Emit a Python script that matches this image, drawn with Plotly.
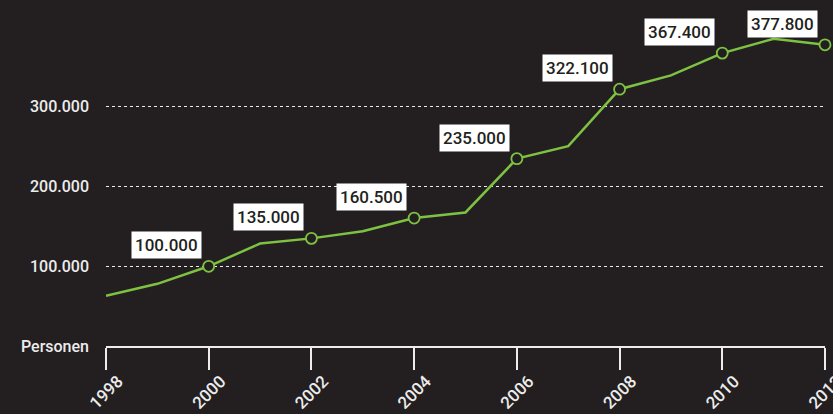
import plotly.graph_objects as go

# Personen pro Jahr
years = list(range(1998, 2013))
persons = [63000, 78000, 100000, 128500, 135000, 144000, 160500, 167500,
           235000, 250700, 322100, 339400, 367400, 385400, 377800]

# beschriftete Punkte
label_years = [2000, 2002, 2004, 2006, 2008, 2010, 2012]
label_texts = ["100.000", "135.000", "160.500", "235.000", "322.100", "367.400", "377.800"]

y_ticks = [0, 100000, 200000, 300000]
y_ticktext = ["Personen", "100.000", "200.000", "300.000"]
x_ticks = list(range(1998, 2013, 2))

bg = "#231f20"
green = "#7dc242"
light = "#ececec"

fig = go.Figure()

fig.add_trace(go.Scatter(
    x=years, y=persons, mode="lines",
    line=dict(color=green, width=2.5),
    hoverinfo="skip", cliponaxis=False,
))

marker_y = [persons[years.index(y)] for y in label_years]
fig.add_trace(go.Scatter(
    x=label_years, y=marker_y, mode="markers",
    marker=dict(size=11, color=bg, line=dict(color=green, width=1.8)),
    cliponaxis=False,
))

for yr, yv, txt in zip(label_years, marker_y, label_texts):
    fig.add_annotation(
        x=yr, y=yv, text=txt, showarrow=False,
        xanchor="right", yanchor="bottom", xshift=-7, yshift=7,
        bgcolor="white", borderpad=3,
        font=dict(family="Roboto", size=17, color=bg, weight=500),
    )

fig.update_layout(
    width=833, height=414,
    paper_bgcolor=bg, plot_bgcolor=bg,
    margin=dict(l=106, r=8, t=0, b=68),
    showlegend=False,
    font=dict(family="Roboto", size=16, color=light, weight=500),
)

fig.update_xaxes(
    range=[1998, 2012], tickvals=x_ticks, automargin=False,
    showgrid=False, zeroline=False,
    showline=True, linecolor=light, linewidth=1.5,
    ticks="outside", ticklen=22, tickwidth=1.5, tickcolor=light,
    tickangle=-45, tickfont=dict(size=17, color=light),
    ticklabelshift=12, ticklabelstandoff=-5, ticklabeloverflow="allow",
)

fig.update_yaxes(
    range=[0, 434000], tickvals=y_ticks, ticktext=y_ticktext,
    automargin=False,
    showgrid=True, gridcolor=light, griddash="dot", gridwidth=1,
    zeroline=False, showline=False, ticks="",
    ticklabelstandoff=16, tickfont=dict(size=16, color=light),
)

# Seitenrand des Browsers entfernen, damit die Grafik das Fenster fuellt
fig.write_html("out.html", config={"displayModeBar": False},
               post_script="document.body.style.margin='0';")
